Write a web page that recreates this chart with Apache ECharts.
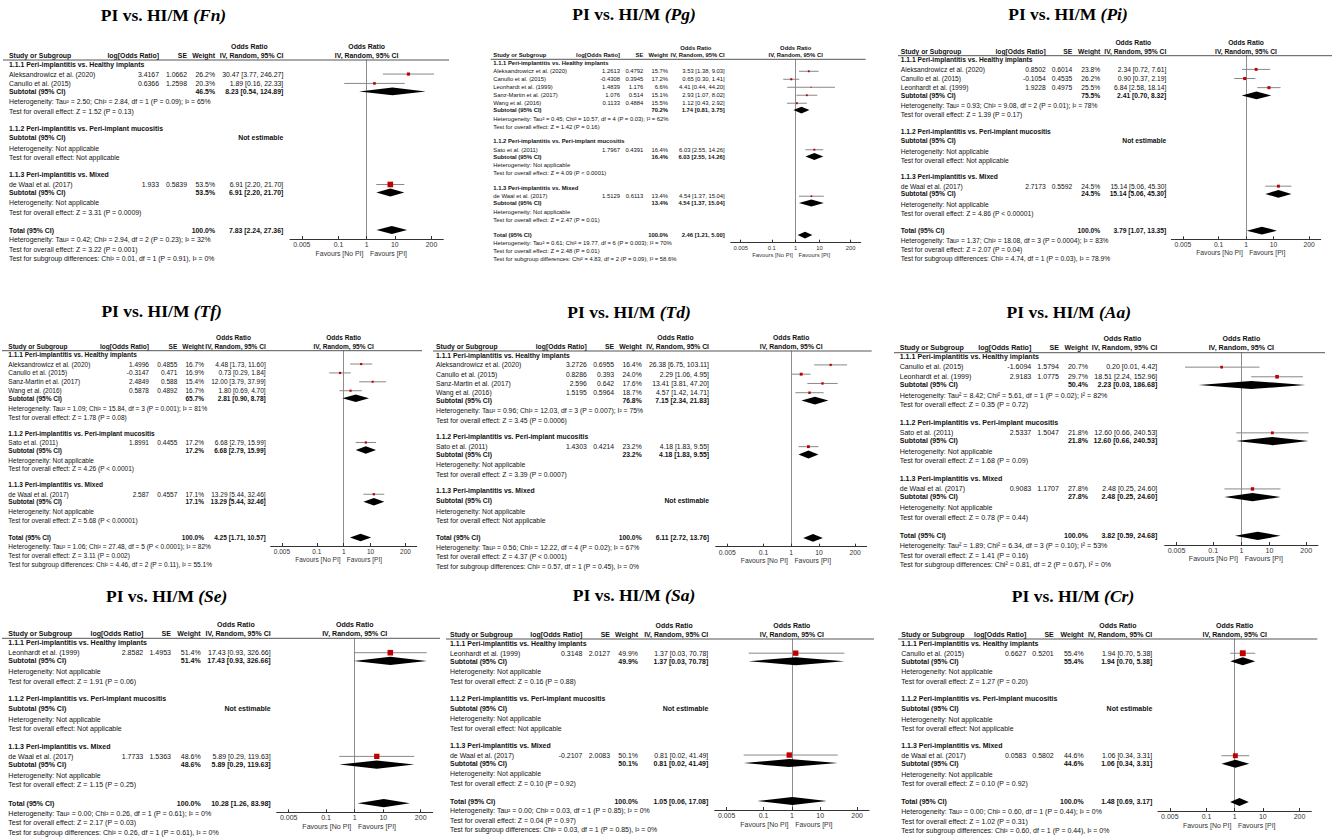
<!DOCTYPE html>
<html>
<head>
<meta charset="utf-8">
<title>PI vs. HI/M forest plots</title>
<script src="https://cdn.jsdelivr.net/npm/echarts@6/dist/echarts.min.js"></script>
<style>
  html, body { margin: 0; padding: 0; background: #fff; }
  #main { width: 1332px; height: 837px; }
</style>
</head>
<body>
<div id="main"></div>
<script>
var groupNames = [
  '1.1.1 Peri-implantitis vs. Healthy implants',
  '1.1.2 Peri-implantitis vs. Peri-implant mucositis',
  '1.1.3 Peri-implantitis vs. Mixed'
];
var oddsTicks = [0.005, 0.1, 1, 10, 200];
var NA = [null, null, null, null, 'Not applicable', 'Not applicable'];

// study rows: name, subgroup, log[OR], SE, weight %, OR, lower, upper
// subtotal rows: weight %, OR, lower, upper, heterogeneity, overall effect
// total: OR, lower, upper, heterogeneity, overall effect, subgroup differences

// Fn
var fnStudies = [
  ['Aleksandrowicz et al. (2020)', 1, 3.4167, 1.0662, 26.2, 30.47, 3.77, 246.27],
  ['Canullo et al. (2015)', 1, 0.6366, 1.2598, 20.3, 1.89, 0.16, 22.33],
  ['de Waal et al. (2017)', 3, 1.933, 0.5839, 53.5, 6.91, 2.20, 21.70]
];
var fnSubtotals = [
  [46.5, 8.23, 0.54, 124.89, 'Tau² = 2.50; Chi² = 2.84, df = 1 (P = 0.09); I² = 65%', 'Z = 1.52 (P = 0.13)'],
  NA,
  [53.5, 6.91, 2.20, 21.70, 'Not applicable', 'Z = 3.31 (P = 0.0009)']
];
var fnTotal = [7.83, 2.24, 27.36, 'Tau² = 0.42; Chi² = 2.94, df = 2 (P = 0.23); I² = 32%', 'Z = 3.22 (P = 0.001)', 'Chi² = 0.01, df = 1 (P = 0.91), I² = 0%'];

// Pg
var pgStudies = [
  ['Aleksandrowicz et al. (2020)', 1, 1.2613, 0.4792, 15.7, 3.53, 1.38, 9.03],
  ['Canullo et al. (2015)', 1, -0.4308, 0.3945, 17.2, 0.65, 0.30, 1.41],
  ['Leonhardt et al. (1999)', 1, 1.4839, 1.176, 6.6, 4.41, 0.44, 44.20],
  ['Sanz-Martin et al. (2017)', 1, 1.076, 0.514, 15.1, 2.93, 1.07, 8.02],
  ['Wang et al. (2016)', 1, 0.1133, 0.4884, 15.5, 1.12, 0.43, 2.92],
  ['Sato et al. (2011)', 2, 1.7967, 0.4391, 16.4, 6.03, 2.55, 14.26],
  ['de Waal et al. (2017)', 3, 1.5129, 0.6113, 13.4, 4.54, 1.37, 15.04]
];
var pgSubtotals = [
  [70.2, 1.74, 0.81, 3.75, 'Tau² = 0.45; Chi² = 10.57, df = 4 (P = 0.03); I² = 62%', 'Z = 1.42 (P = 0.16)'],
  [16.4, 6.03, 2.55, 14.26, 'Not applicable', 'Z = 4.09 (P < 0.0001)'],
  [13.4, 4.54, 1.37, 15.04, 'Not applicable', 'Z = 2.47 (P = 0.01)']
];
var pgTotal = [2.46, 1.21, 5.00, 'Tau² = 0.61; Chi² = 19.77, df = 6 (P = 0.003); I² = 70%', 'Z = 2.48 (P = 0.01)', 'Chi² = 4.83, df = 2 (P = 0.09), I² = 58.6%'];

// Pi
var piStudies = [
  ['Aleksandrowicz et al. (2020)', 1, 0.8502, 0.6014, 23.8, 2.34, 0.72, 7.61],
  ['Canullo et al. (2015)', 1, -0.1054, 0.4535, 26.2, 0.90, 0.37, 2.19],
  ['Leonhardt et al. (1999)', 1, 1.9228, 0.4975, 25.5, 6.84, 2.58, 18.14],
  ['de Waal et al. (2017)', 3, 2.7173, 0.5592, 24.5, 15.14, 5.06, 45.30]
];
var piSubtotals = [
  [75.5, 2.41, 0.70, 8.32, 'Tau² = 0.93; Chi² = 9.08, df = 2 (P = 0.01); I² = 78%', 'Z = 1.39 (P = 0.17)'],
  NA,
  [24.5, 15.14, 5.06, 45.30, 'Not applicable', 'Z = 4.86 (P < 0.00001)']
];
var piTotal = [3.79, 1.07, 13.35, 'Tau² = 1.37; Chi² = 18.08, df = 3 (P = 0.0004); I² = 83%', 'Z = 2.07 (P = 0.04)', 'Chi² = 4.74, df = 1 (P = 0.03), I² = 78.9%'];

// Tf
var tfStudies = [
  ['Aleksandrowicz et al. (2020)', 1, 1.4996, 0.4855, 16.7, 4.48, 1.73, 11.60],
  ['Canullo et al. (2015)', 1, -0.3147, 0.471, 16.9, 0.73, 0.29, 1.84],
  ['Sanz-Martin et al. (2017)', 1, 2.4849, 0.588, 15.4, 12.00, 3.79, 37.99],
  ['Wang et al. (2016)', 1, 0.5878, 0.4892, 16.7, 1.80, 0.69, 4.70],
  ['Sato et al. (2011)', 2, 1.8991, 0.4455, 17.2, 6.68, 2.79, 15.99],
  ['de Waal et al. (2017)', 3, 2.587, 0.4557, 17.1, 13.29, 5.44, 32.46]
];
var tfSubtotals = [
  [65.7, 2.81, 0.90, 8.78, 'Tau² = 1.09; Chi² = 15.84, df = 3 (P = 0.001); I² = 81%', 'Z = 1.78 (P = 0.08)'],
  [17.2, 6.68, 2.79, 15.99, 'Not applicable', 'Z = 4.26 (P < 0.0001)'],
  [17.1, 13.29, 5.44, 32.46, 'Not applicable', 'Z = 5.68 (P < 0.00001)']
];
var tfTotal = [4.25, 1.71, 10.57, 'Tau² = 1.06; Chi² = 27.48, df = 5 (P < 0.0001); I² = 82%', 'Z = 3.11 (P = 0.002)', 'Chi² = 4.46, df = 2 (P = 0.11), I² = 55.1%'];

// Td
var tdStudies = [
  ['Aleksandrowicz et al. (2020)', 1, 3.2726, 0.6955, 16.4, 26.38, 6.75, 103.11],
  ['Canullo et al. (2015)', 1, 0.8286, 0.393, 24.0, 2.29, 1.06, 4.95],
  ['Sanz-Martin et al. (2017)', 1, 2.596, 0.642, 17.6, 13.41, 3.81, 47.20],
  ['Wang et al. (2016)', 1, 1.5195, 0.5964, 18.7, 4.57, 1.42, 14.71],
  ['Sato et al. (2011)', 2, 1.4303, 0.4214, 23.2, 4.18, 1.83, 9.55]
];
var tdSubtotals = [
  [76.8, 7.15, 2.34, 21.83, 'Tau² = 0.96; Chi² = 12.03, df = 3 (P = 0.007); I² = 75%', 'Z = 3.45 (P = 0.0006)'],
  [23.2, 4.18, 1.83, 9.55, 'Not applicable', 'Z = 3.39 (P = 0.0007)'],
  NA
];
var tdTotal = [6.11, 2.72, 13.76, 'Tau² = 0.56; Chi² = 12.22, df = 4 (P = 0.02); I² = 67%', 'Z = 4.37 (P < 0.0001)', 'Chi² = 0.57, df = 1 (P = 0.45), I² = 0%'];

// Aa
var aaStudies = [
  ['Canullo et al. (2015)', 1, -1.6094, 1.5794, 20.7, 0.20, 0.01, 4.42],
  ['Leonhardt et al. (1999)', 1, 2.9183, 1.0775, 29.7, 18.51, 2.24, 152.96],
  ['Sato et al. (2011)', 2, 2.5337, 1.5047, 21.8, 12.60, 0.66, 240.53],
  ['de Waal et al. (2017)', 3, 0.9083, 1.1707, 27.8, 2.48, 0.25, 24.60]
];
var aaSubtotals = [
  [50.4, 2.23, 0.03, 186.68, 'Tau² = 8.42; Chi² = 5.61, df = 1 (P = 0.02); I² = 82%', 'Z = 0.35 (P = 0.72)'],
  [21.8, 12.60, 0.66, 240.53, 'Not applicable', 'Z = 1.68 (P = 0.09)'],
  [27.8, 2.48, 0.25, 24.60, 'Not applicable', 'Z = 0.78 (P = 0.44)']
];
var aaTotal = [3.82, 0.59, 24.68, 'Tau² = 1.89; Chi² = 6.34, df = 3 (P = 0.10); I² = 53%', 'Z = 1.41 (P = 0.16)', 'Chi² = 0.81, df = 2 (P = 0.67), I² = 0%'];

// Se
var seStudies = [
  ['Leonhardt et al. (1999)', 1, 2.8582, 1.4953, 51.4, 17.43, 0.93, 326.66],
  ['de Waal et al. (2017)', 3, 1.7733, 1.5363, 48.6, 5.89, 0.29, 119.63]
];
var seSubtotals = [
  [51.4, 17.43, 0.93, 326.66, 'Not applicable', 'Z = 1.91 (P = 0.06)'],
  NA,
  [48.6, 5.89, 0.29, 119.63, 'Not applicable', 'Z = 1.15 (P = 0.25)']
];
var seTotal = [10.28, 1.26, 83.98, 'Tau² = 0.00; Chi² = 0.26, df = 1 (P = 0.61); I² = 0%', 'Z = 2.17 (P = 0.03)', 'Chi² = 0.26, df = 1 (P = 0.61), I² = 0%'];

// Sa
var saStudies = [
  ['Leonhardt et al. (1999)', 1, 0.3148, 2.0127, 49.9, 1.37, 0.03, 70.78],
  ['de Waal et al. (2017)', 3, -0.2107, 2.0083, 50.1, 0.81, 0.02, 41.49]
];
var saSubtotals = [
  [49.9, 1.37, 0.03, 70.78, 'Not applicable', 'Z = 0.16 (P = 0.88)'],
  NA,
  [50.1, 0.81, 0.02, 41.49, 'Not applicable', 'Z = 0.10 (P = 0.92)']
];
var saTotal = [1.05, 0.06, 17.08, 'Tau² = 0.00; Chi² = 0.03, df = 1 (P = 0.85); I² = 0%', 'Z = 0.04 (P = 0.97)', 'Chi² = 0.03, df = 1 (P = 0.85), I² = 0%'];

// Cr
var crStudies = [
  ['Canullo et al. (2015)', 1, 0.6627, 0.5201, 55.4, 1.94, 0.70, 5.38],
  ['de Waal et al. (2017)', 3, 0.0583, 0.5802, 44.6, 1.06, 0.34, 3.31]
];
var crSubtotals = [
  [55.4, 1.94, 0.70, 5.38, 'Not applicable', 'Z = 1.27 (P = 0.20)'],
  NA,
  [44.6, 1.06, 0.34, 3.31, 'Not applicable', 'Z = 0.10 (P = 0.92)']
];
var crTotal = [1.48, 0.69, 3.17, 'Tau² = 0.00; Chi² = 0.60, df = 1 (P = 0.44); I² = 0%', 'Z = 1.02 (P = 0.31)', 'Chi² = 0.60, df = 1 (P = 0.44), I² = 0%'];

var panelData = [
  [fnStudies, fnSubtotals, fnTotal], [pgStudies, pgSubtotals, pgTotal], [piStudies, piSubtotals, piTotal],
  [tfStudies, tfSubtotals, tfTotal], [tdStudies, tdSubtotals, tdTotal], [aaStudies, aaSubtotals, aaTotal],
  [seStudies, seSubtotals, seTotal], [saStudies, saSubtotals, saTotal], [crStudies, crSubtotals, crTotal]
];

// page layout of each panel (pixels): title, table columns, plot box
var layout = [
  {key: 'Fn', tX: 163.5, tY: 14.5, lineL: 3, lineR: 449, tx: 9, log: 159, se: 187, w: 215, ci: 283.3, axL: 290, axR: 443.3, top: 60, bottom: 239},
  {key: 'Pg', tX: 634, tY: 14, lineL: 490.7, lineR: 865.7, tx: 493.3, log: 620, se: 643.3, w: 668, ci: 724.7, axL: 730.7, axR: 860.7, top: 59.3, bottom: 242.7},
  {key: 'Pi', tX: 1068, tY: 14, lineL: 898, lineR: 1332, tx: 900.7, log: 1045.7, se: 1072.3, w: 1100.3, ci: 1166.3, axL: 1171.3, axR: 1320.7, top: 55.7, bottom: 239.3},
  {key: 'Tf', tX: 161.7, tY: 311, lineL: 2, lineR: 422, tx: 8.3, log: 149, se: 177.3, w: 204, ci: 265.7, axL: 270.7, axR: 416.7, top: 350.7, bottom: 546},
  {key: 'Td', tX: 629, tY: 311.7, lineL: 433, lineR: 871.7, tx: 436, log: 586.7, se: 614, w: 641.7, ci: 709, axL: 715.7, axR: 866.7, top: 351, bottom: 546.7},
  {key: 'Aa', tX: 1068.8, tY: 312, lineL: 894, lineR: 1325, tx: 899.7, log: 1031.3, se: 1059, w: 1088, ci: 1157.3, axL: 1164.7, axR: 1318, top: 352.7, bottom: 545},
  {key: 'Se', tX: 166.7, tY: 595.7, lineL: 2, lineR: 440, tx: 8.3, log: 143.3, se: 171, w: 200.7, ci: 270.7, axL: 276.7, axR: 432.7, top: 638.3, bottom: 812.3},
  {key: 'Sa', tX: 634, tY: 595, lineL: 446, lineR: 874, tx: 450, log: 582.3, se: 610, w: 638, ci: 708.3, axL: 714.7, axR: 869, top: 639, bottom: 810},
  {key: 'Cr', tX: 1073, tY: 595.7, lineL: 898, lineR: 1317.3, tx: 901.3, log: 1026.3, se: 1053.7, w: 1083.7, ci: 1152.3, axL: 1158, axR: 1311.3, top: 639, bottom: 811}
];

var sansFont = '"Liberation Sans", Arial, sans-serif';
var serifFont = '"Liberation Serif", "Times New Roman", serif';
var tickPos = oddsTicks.map(function (v) { return Math.log10(v); });
var AX_EXT = 2.72; // log10 half-range of the plotted axis line

function fmt(v) { return v.toFixed(2); }
function ciText(or, lo, hi) { return fmt(or) + ' [' + fmt(lo) + ', ' + fmt(hi) + ']'; }

// row positions in "row units" following the RevMan table rhythm
function buildRows(studies, subs, total) {
  var rows = [{t: 'head', y: 0}];
  var y = 0.45;
  for (var g = 0; g < 3; g++) {
    rows.push({t: 'group', y: y, text: groupNames[g]});
    var list = studies.filter(function (s) { return s[1] === g + 1; });
    var step = 1.05;
    list.forEach(function (s) { y += step; rows.push({t: 'study', y: y, d: s}); step = 1.0; });
    y += list.length ? 0.85 : 1.05;
    rows.push({t: 'sub', y: y, d: subs[g]});
    y += 1.12;
    rows.push({t: 'text', y: y, text: 'Heterogeneity: ' + subs[g][4]});
    y += 1.0;
    rows.push({t: 'text', y: y, text: 'Test for overall effect: ' + subs[g][5]});
    y += g < 2 ? 1.8 : 1.9;
  }
  rows.push({t: 'total', y: y, d: total});
  var axisUnits = y + 0.95;
  rows.push({t: 'text', y: y + 1.05, text: 'Heterogeneity: ' + total[3]});
  rows.push({t: 'text', y: y + 2.05, text: 'Test for overall effect: ' + total[4]});
  rows.push({t: 'text', y: y + 3.05, text: 'Test for subgroup differences: ' + total[5]});
  return {rows: rows, axisUnits: axisUnits};
}

function makeRender(L, rows, u, axisUnits) {
  var fs = (0.735 * u).toFixed(2);
  var font = fs + 'px ' + sansFont;
  var bfont = 'bold ' + font;
  return function (params, api) {
    var r = rows[params.dataIndex];
    var y = api.coord([0, r.y])[1];
    var kids = [];
    function txt(s, x, yy, align, bold, color) {
      kids.push({
        type: 'text', x: x, y: yy, silent: true,
        style: {text: s, font: bold ? bfont : font, fill: color || '#111',
          align: align, verticalAlign: 'middle', textAlign: align, textVerticalAlign: 'middle'}
      });
    }
    function px(v) {
      var lv = Math.max(-AX_EXT, Math.min(AX_EXT, Math.log10(v)));
      return api.coord([lv, r.y])[0];
    }
    function diamond(or, lo, hi) {
      var h = 0.85 * u;
      kids.push({type: 'polygon', silent: true,
        shape: {points: [[px(lo), y], [px(or), y - h / 2], [px(hi), y], [px(or), y + h / 2]]},
        style: {fill: '#000'}});
    }
    var x1 = api.coord([0, r.y])[0];
    if (r.t === 'head') {
      var y1 = api.coord([0, -1.45])[1], y2 = api.coord([0, -0.5])[1];
      txt('Study or Subgroup', L.tx, y2, 'left', true);
      txt('log[Odds Ratio]', L.log, y2, 'right', true);
      txt('SE', L.se, y2, 'right', true);
      txt('Weight', L.w, y2, 'right', true);
      txt('Odds Ratio', L.ci - 3.62 * u, y1, 'center', true);
      txt('IV, Random, 95% CI', L.ci, y2, 'right', true);
      txt('Odds Ratio', x1, y1, 'center', true);
      txt('IV, Random, 95% CI', x1, y2, 'center', true);
      kids.push({type: 'line', silent: true, shape: {x1: L.lineL, y1: y, x2: L.lineR, y2: y},
        style: {stroke: '#555', lineWidth: 1}});
      var yf = api.coord([0, axisUnits + 1.5])[1];
      txt('Favours [No PI]', x1 - 0.35 * u, yf, 'right', false, '#333');
      txt('Favours [PI]', x1 + 0.35 * u, yf, 'left', false, '#333');
    } else if (r.t === 'group') {
      txt(r.text, L.tx, y, 'left', true);
    } else if (r.t === 'text') {
      txt(r.text, L.tx, y, 'left', false);
    } else if (r.t === 'study') {
      var d = r.d;
      txt(d[0], L.tx, y, 'left', false);
      txt(String(d[2]), L.log, y, 'right', false);
      txt(String(d[3]), L.se, y, 'right', false);
      txt(d[4].toFixed(1) + '%', L.w, y, 'right', false);
      txt(ciText(d[5], d[6], d[7]), L.ci, y, 'right', false);
      kids.push({type: 'line', silent: true, shape: {x1: px(d[6]), y1: y, x2: px(d[7]), y2: y},
        style: {stroke: '#888', lineWidth: 1}});
      var side = (0.8 + 0.09 * d[4]) * u / 9.35;
      kids.push({type: 'rect', silent: true,
        shape: {x: px(d[5]) - side / 2, y: y - side / 2, width: side, height: side},
        style: {fill: '#c00000'}});
    } else if (r.t === 'sub') {
      var s = r.d;
      txt('Subtotal (95% CI)', L.tx, y, 'left', true);
      if (s[1] == null) {
        txt('Not estimable', L.ci, y, 'right', true);
      } else {
        txt(s[0].toFixed(1) + '%', L.w, y, 'right', true);
        txt(ciText(s[1], s[2], s[3]), L.ci, y, 'right', true);
        diamond(s[1], s[2], s[3]);
      }
    } else if (r.t === 'total') {
      var t = r.d;
      txt('Total (95% CI)', L.tx, y, 'left', true);
      txt('100.0%', L.w, y, 'right', true);
      txt(ciText(t[0], t[1], t[2]), L.ci, y, 'right', true);
      diamond(t[0], t[1], t[2]);
    }
    return {type: 'group', children: kids};
  };
}

var option = {
  animation: false,
  backgroundColor: '#fff',
  title: [], grid: [], xAxis: [], yAxis: [], series: []
};

panelData.forEach(function (pd, i) {
  var L = layout[i];
  var built = buildRows(pd[0], pd[1], pd[2]);
  var u = (L.bottom - L.top) / built.axisUnits;
  var fs = 0.735 * u;
  option.title.push({
    text: '{a|PI vs. HI/M }{b|(' + L.key + ')}',
    left: L.tX, top: L.tY, textAlign: 'center', textVerticalAlign: 'middle', padding: 0,
    textStyle: {
      rich: {
        a: {fontFamily: serifFont, fontWeight: 'bold', fontSize: 17.5, color: '#000'},
        b: {fontFamily: serifFont, fontWeight: 'bold', fontStyle: 'italic', fontSize: 17.5, color: '#000'}
      }
    }
  });
  option.grid.push({
    left: L.axL, top: L.top, width: L.axR - L.axL, height: L.bottom - L.top,
    containLabel: false, outerBoundsMode: 'none'
  });
  option.xAxis.push({
    gridIndex: i, type: 'value', min: -AX_EXT, max: AX_EXT,
    splitLine: {show: false},
    axisLine: {show: true, onZero: false, lineStyle: {color: '#333', width: 1}},
    axisTick: {show: true, inside: true, length: 3, customValues: tickPos, lineStyle: {color: '#333'}},
    axisLabel: {
      customValues: tickPos, margin: 2, fontSize: fs, fontFamily: sansFont, color: '#333',
      formatter: function (v) {
        for (var k = 0; k < tickPos.length; k++) {
          if (Math.abs(tickPos[k] - v) < 1e-6) return String(oddsTicks[k]);
        }
        return '';
      }
    }
  });
  option.yAxis.push({
    gridIndex: i, type: 'value', inverse: true, min: 0, max: built.axisUnits,
    axisLine: {show: true, onZero: true, lineStyle: {color: '#8c8c8c', width: 1}},
    axisTick: {show: false}, axisLabel: {show: false}, splitLine: {show: false}
  });
  option.series.push({
    type: 'custom', xAxisIndex: i, yAxisIndex: i, clip: false, silent: true,
    encode: {x: 0, y: 1},
    data: built.rows.map(function (r) { return [0, r.y]; }),
    renderItem: makeRender(L, built.rows, u, built.axisUnits)
  });
});

var myChart = echarts.init(document.getElementById('main'), null, {renderer: 'svg'});
myChart.setOption(option);
</script>
</body>
</html>
